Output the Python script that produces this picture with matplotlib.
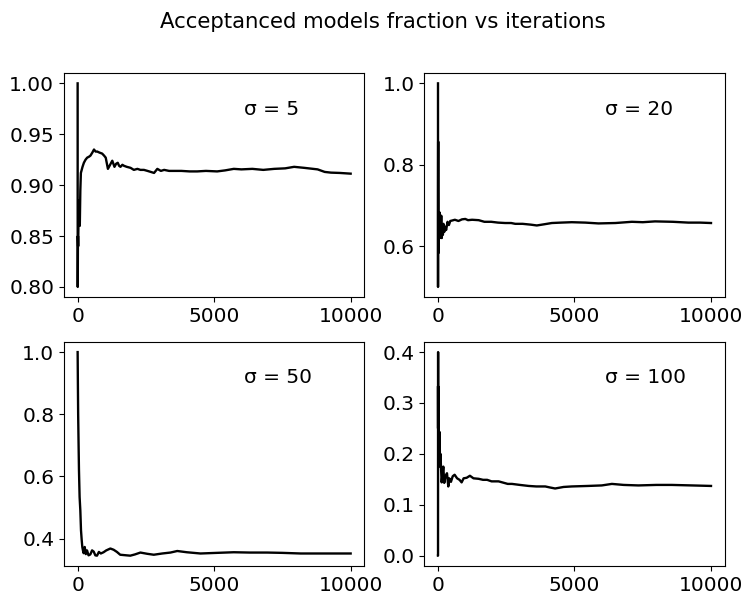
import matplotlib
matplotlib.use("Agg")
import matplotlib.pyplot as plt

# running acceptance fraction
sigmas = [5, 20, 50, 100]

iters_s5 = [1, 2, 3, 4, 5, 8, 12, 20, 30, 45, 60, 80, 100, 120, 150, 180, 230, 290, 350,
            420, 470, 540, 600, 660, 720, 800, 900, 970, 1030, 1110, 1190, 1270, 1350,
            1410, 1470, 1520, 1570, 1640, 1700, 1800, 1940, 2060, 2190, 2300, 2430, 2560,
            2680, 2800, 2920, 3050, 3170, 3350, 3530, 3800, 4100, 4380, 4700, 5110, 5400,
            5720, 6000, 6400, 6800, 7200, 7600, 7930, 8300, 8790, 9050, 9280, 9600, 10000]
frac_s5 = [1.0, 0.9, 0.867, 0.83, 0.8, 0.82, 0.85, 0.84, 0.86, 0.885, 0.872, 0.86, 0.895,
           0.912, 0.915, 0.918, 0.922, 0.925, 0.927, 0.928, 0.929, 0.932, 0.935, 0.933,
           0.933, 0.932, 0.931, 0.929, 0.927, 0.916, 0.92, 0.924, 0.918, 0.921, 0.922,
           0.919, 0.918, 0.92, 0.919, 0.918, 0.917, 0.915, 0.916, 0.915, 0.915, 0.914,
           0.913, 0.912, 0.916, 0.914, 0.915, 0.914, 0.914, 0.914, 0.9135, 0.9135, 0.914,
           0.9135, 0.9145, 0.916, 0.9155, 0.916, 0.915, 0.916, 0.9165, 0.918, 0.917,
           0.9155, 0.913, 0.9123, 0.912, 0.9113]

iters_s20 = [1, 2, 3, 4, 5, 6, 7, 8, 10, 12, 15, 20, 25, 30, 40, 50, 60, 70, 85, 100, 120,
             140, 160, 180, 200, 230, 260, 300, 350, 400, 450, 510, 620, 750, 880, 1000,
             1100, 1250, 1490, 1700, 1950, 2200, 2460, 2680, 2830, 3100, 3400, 3620, 3900,
             4170, 4500, 4900, 5400, 5880, 6500, 7100, 7500, 7950, 8600, 9170, 9600, 10000]
frac_s20 = [1.0, 0.5, 0.667, 0.75, 0.8, 0.833, 0.857, 0.75, 0.7, 0.583, 0.6, 0.65, 0.6,
            0.633, 0.625, 0.66, 0.683, 0.62, 0.66, 0.63, 0.675, 0.62, 0.65, 0.628, 0.655,
            0.635, 0.648, 0.64, 0.66, 0.652, 0.662, 0.663, 0.665, 0.662, 0.666, 0.667,
            0.664, 0.665, 0.664, 0.66, 0.66, 0.658, 0.657, 0.657, 0.655, 0.655, 0.653,
            0.651, 0.654, 0.657, 0.658, 0.659, 0.658, 0.656, 0.657, 0.66, 0.659, 0.661,
            0.66, 0.658, 0.658, 0.657]

iters_s50 = [1, 10, 20, 37, 50, 73, 100, 124, 150, 172, 200, 220, 260, 300, 344, 400, 466,
             530, 590, 650, 710, 780, 850, 950, 1050, 1200, 1320, 1440, 1560, 1680, 1800,
             1930, 2100, 2300, 2550, 2790, 3100, 3400, 3650, 4000, 4500, 5100, 5720, 6300,
             6940, 7500, 8170, 9000, 10000]
frac_s50 = [1.0, 0.9, 0.8, 0.695, 0.62, 0.534, 0.49, 0.427, 0.395, 0.373, 0.36, 0.353,
            0.373, 0.35, 0.362, 0.346, 0.349, 0.362, 0.358, 0.346, 0.345, 0.357, 0.352,
            0.356, 0.362, 0.368, 0.364, 0.357, 0.348, 0.347, 0.346, 0.345, 0.349, 0.355,
            0.351, 0.348, 0.352, 0.355, 0.36, 0.356, 0.352, 0.354, 0.356, 0.355, 0.355,
            0.354, 0.352, 0.352, 0.352]

iters_s100 = [1, 2, 3, 4, 5, 6, 7, 8, 10, 12, 15, 20, 30, 40, 50, 60, 75, 90, 110, 135, 170,
              195, 230, 270, 330, 378, 415, 475, 540, 610, 700, 790, 866, 940, 1050, 1170,
              1300, 1490, 1650, 1800, 1963, 2220, 2555, 2710, 3000, 3320, 3600, 3930, 4100,
              4290, 4600, 4900, 5500, 6000, 6370, 6800, 7340, 8000, 8560, 9300, 10000]
frac_s100 = [0.0, 0.0, 0.333, 0.25, 0.4, 0.333, 0.286, 0.25, 0.3, 0.25, 0.2, 0.25, 0.2,
             0.225, 0.2, 0.243, 0.175, 0.2, 0.175, 0.144, 0.162, 0.175, 0.143, 0.155,
             0.162, 0.136, 0.152, 0.145, 0.156, 0.159, 0.152, 0.149, 0.144, 0.152, 0.153,
             0.157, 0.152, 0.151, 0.149, 0.149, 0.146, 0.146, 0.141, 0.141, 0.139, 0.137,
             0.136, 0.136, 0.134, 0.132, 0.135, 0.136, 0.137, 0.138, 0.141, 0.139, 0.138,
             0.139, 0.139, 0.138, 0.137]

all_iters = [iters_s5, iters_s20, iters_s50, iters_s100]
all_fracs = [frac_s5, frac_s20, frac_s50, frac_s100]

plt.rcParams['font.size'] = 14.5
fig, axes = plt.subplots(2, 2, figsize=(7.44, 5.95), dpi=100)
fig.subplots_adjust(left=0.086, right=0.974, top=0.877, bottom=0.049, wspace=0.2, hspace=0.2)
fig.suptitle("Acceptanced models fraction vs iterations", fontsize=15.3, x=0.515)

for ax, s, xs, ys in zip(axes.flat, sigmas, all_iters, all_fracs):
    ax.plot(xs, ys, color="black", linewidth=1.7)
    ax.set_xticks([0, 5000, 10000])
    ax.text(0.6, 0.84, "σ = %d" % s, transform=ax.transAxes, va="center")

fig.savefig("out.png", dpi=100)
